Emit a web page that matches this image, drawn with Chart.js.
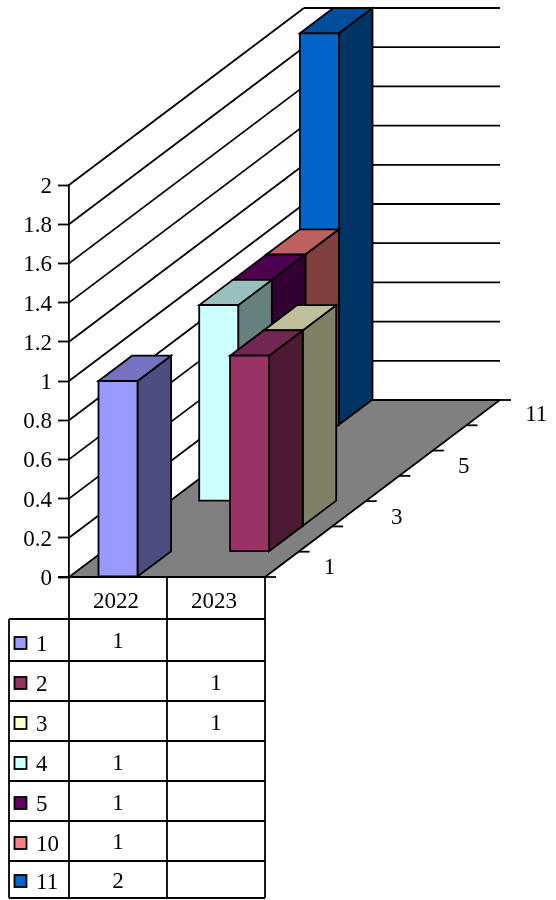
<!DOCTYPE html>
<html>
<head>
<meta charset="utf-8">
<title>Chart</title>
<script src="https://cdn.jsdelivr.net/npm/chart.js@4"></script>
<style>
  html, body { margin: 0; padding: 0; background: #fff; }
  canvas { display: block; }
</style>
</head>
<body>
<canvas id="chart" width="556" height="900"></canvas>
<script>
const years = ['2022', '2023'];
const seriesNames = ['1', '2', '3', '4', '5', '10', '11'];
const values1 = [1, null];
const values2 = [null, 1];
const values3 = [null, 1];
const values4 = [1, null];
const values5 = [1, null];
const values10 = [1, null];
const values11 = [2, null];
const seriesValues = [values1, values2, values3, values4, values5, values10, values11];

// front, top and side colours of each series
const frontColors = ['#9999ff', '#993366', '#ffffcc', '#ccffff', '#660066', '#ff8080', '#0066cc'];
const topColors = ['#7373bf', '#732650', '#bfbf99', '#99bfbf', '#4d004d', '#bf6060', '#004d99'];
const sideColors = ['#4d4d80', '#4d1a33', '#808066', '#668080', '#330033', '#804040', '#003366'];

const fontName = '"Liberation Serif", "Times New Roman", serif';
const fontSize = 23;
const lineW = 1.8;

// 3d look: the whole floor depth, one series slot is a seventh of it
const floorDx = 235;
const floorDy = 177;
const slotDx = floorDx / seriesNames.length;
const slotDy = floorDy / seriesNames.length;
const tickLen = 11;

// table layout
const tableLeft = 9;
const rowLines = [619, 661, 701, 741, 781, 821, 861, 898];
const valueY = [641, 683, 723, 763, 803, 842, 881];
const labelY = [644, 684, 724, 764, 804, 844, 882];

function line(ctx, x1, y1, x2, y2) {
  ctx.beginPath();
  ctx.moveTo(x1, y1);
  ctx.lineTo(x2, y2);
  ctx.stroke();
}

function poly(ctx, pts, fill) {
  ctx.beginPath();
  pts.forEach((p, i) => i ? ctx.lineTo(p[0], p[1]) : ctx.moveTo(p[0], p[1]));
  ctx.closePath();
  ctx.fillStyle = fill;
  ctx.fill();
  ctx.stroke();
}

const bars3d = {
  id: 'bars3d',
  beforeDatasetsDraw(chart) {
    const ctx = chart.ctx;
    const area = chart.chartArea;
    const yScale = chart.scales.y;
    ctx.save();
    ctx.strokeStyle = '#000';
    ctx.lineWidth = lineW;
    ctx.lineJoin = 'miter';

    // floor
    poly(ctx, [
      [area.left, area.bottom], [area.right, area.bottom],
      [area.right + floorDx, area.bottom - floorDy], [area.left + floorDx, area.bottom - floorDy]
    ], '#808080');

    // walls
    yScale.ticks.forEach(t => {
      const y = yScale.getPixelForValue(t.value);
      if (t.value > 0) {
        line(ctx, area.left, y, area.left + floorDx, y - floorDy);
        line(ctx, area.left + floorDx, y - floorDy, area.right + floorDx, y - floorDy);
      }
    });

    // depth axis ticks and labels
    line(ctx, yScale.left + yScale.width - tickLen, area.bottom, area.right, area.bottom);
    for (let i = 0; i <= seriesNames.length; i++) {
      const x = area.right + slotDx * i;
      const y = area.bottom - slotDy * i;
      line(ctx, x, y, x + tickLen, y);
    }
    ctx.fillStyle = '#000';
    ctx.font = fontSize + 'px ' + fontName;
    ctx.textAlign = 'left';
    ctx.textBaseline = 'middle';
    seriesNames.forEach((name, i) => {
      if (i % 2 === 0) {
        const x = area.right + slotDx * (i + 0.5);
        const y = area.bottom - slotDy * (i + 0.5);
        ctx.fillText(name, x + 42, y + (i === 6 ? 2 : 4));
      }
    });

    // bars, back slot first
    for (let s = seriesNames.length - 1; s >= 0; s--) {
      chart.getDatasetMeta(s).data.forEach((bar, c) => {
        if (seriesValues[s][c] === null) return;
        const p = bar.getProps(['x', 'y', 'base', 'width'], true);
        const l = p.x - p.width / 2 + s * slotDx;
        const r = p.x + p.width / 2 + s * slotDx;
        const t = p.y - s * slotDy;
        const b = p.base - s * slotDy;
        poly(ctx, [[r, t], [r + slotDx, t - slotDy], [r + slotDx, b - slotDy], [r, b]], sideColors[s]);
        poly(ctx, [[l, t], [l + slotDx, t - slotDy], [r + slotDx, t - slotDy], [r, t]], topColors[s]);
        poly(ctx, [[l, t], [r, t], [r, b], [l, b]], frontColors[s]);
      });
    }
    ctx.restore();
  },
  // the 3d bars above replace the flat ones
  beforeDatasetDraw() {
    return false;
  },
  afterDraw(chart) {
    const ctx = chart.ctx;
    const area = chart.chartArea;
    const xScale = chart.scales.x;
    const mid = (area.left + area.right) / 2;
    const lastRow = rowLines[rowLines.length - 1];
    ctx.save();
    ctx.strokeStyle = '#000';
    ctx.lineWidth = lineW;

    // table grid
    line(ctx, area.left, area.bottom, area.left, lastRow);
    line(ctx, mid, area.bottom, mid, lastRow);
    line(ctx, area.right, area.bottom, area.right, lastRow);
    line(ctx, tableLeft, rowLines[0], tableLeft, lastRow);
    rowLines.forEach(y => line(ctx, tableLeft, y, area.right, y));

    // table rows
    ctx.font = fontSize + 'px ' + fontName;
    ctx.textBaseline = 'middle';
    seriesNames.forEach((name, s) => {
      ctx.fillStyle = frontColors[s];
      ctx.fillRect(14.5, labelY[s] - 7, 12, 12);
      ctx.strokeRect(14.5, labelY[s] - 7, 12, 12);
      ctx.fillStyle = '#000';
      ctx.textAlign = 'left';
      ctx.fillText(name, 36, labelY[s] + 1);
      ctx.textAlign = 'center';
      seriesValues[s].forEach((v, c) => {
        if (v !== null) ctx.fillText(String(v), xScale.getPixelForValue(c), valueY[s] + 1);
      });
    });
    ctx.restore();
  }
};

new Chart(document.getElementById('chart'), {
  type: 'bar',
  data: {
    labels: years,
    datasets: seriesNames.map((name, s) => ({
      label: name,
      data: seriesValues[s],
      backgroundColor: frontColors[s]
    }))
  },
  options: {
    responsive: false,
    devicePixelRatio: 1,
    animation: false,
    grouped: false,
    barPercentage: 0.398,
    categoryPercentage: 1,
    layout: { padding: { left: 0, right: 291, top: 185, bottom: 281 } },
    plugins: { legend: { display: false }, tooltip: { enabled: false } },
    scales: {
      x: {
        grid: { display: false },
        border: { display: false },
        ticks: { color: '#000', padding: 3, labelOffset: -2, maxRotation: 0, font: { family: fontName, size: fontSize } },
        afterFit(scale) { scale.height = 42; }
      },
      y: {
        min: 0,
        max: 2,
        grid: { drawOnChartArea: false, tickLength: tickLen, tickWidth: lineW, tickColor: '#000' },
        border: { display: true, color: '#000', width: lineW },
        ticks: {
          color: '#000',
          stepSize: 0.2,
          padding: 6,
          labelOffset: 2,
          font: { family: fontName, size: fontSize },
          callback: v => String(Number(v.toFixed(1)))
        },
        afterFit(scale) { scale.width = 69; }
      }
    }
  },
  plugins: [bars3d]
});
</script>
</body>
</html>
